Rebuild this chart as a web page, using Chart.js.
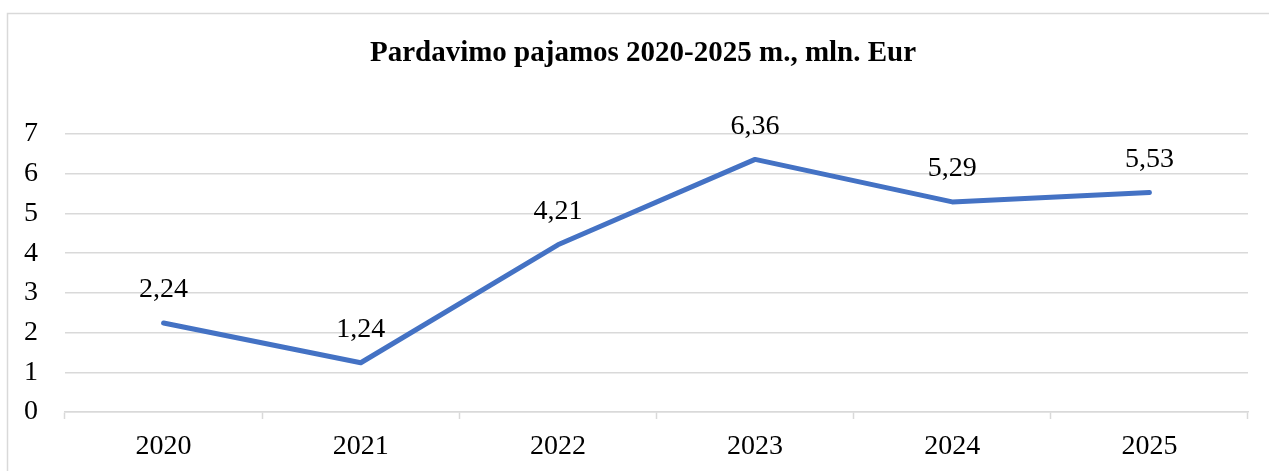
<!DOCTYPE html>
<html>
<head>
<meta charset="utf-8">
<script src="https://cdn.jsdelivr.net/npm/chart.js@4/dist/chart.umd.min.js"></script>
<style>
html,body{margin:0;padding:0;background:#fff;overflow:hidden;}
#wrap{position:absolute;left:0;top:0;width:1269px;height:471px;}
</style>
</head>
<body>
<div id="wrap"><canvas id="c" width="1269" height="471"></canvas></div>
<script>
const categories = ["2020","2021","2022","2023","2024","2025"];
const values = [2.24, 1.24, 4.21, 6.36, 5.29, 5.53];
const valueLabels = ["2,24","1,24","4,21","6,36","5,29","5,53"];
const yTicks = [0,1,2,3,4,5,6,7];
const titleText = "Pardavimo pajamos 2020-2025 m., mln. Eur";

const FONT = "'Liberation Serif', 'Times New Roman', serif";

const frame = {
  id: 'frame',
  beforeDraw(chart){
    const ctx = chart.ctx;
    ctx.save();
    ctx.fillStyle = '#fff';
    ctx.fillRect(0,0,chart.width,chart.height);
    ctx.strokeStyle = '#d9d9d9';
    ctx.lineWidth = 1.5;
    ctx.strokeRect(7.5, 13.5, 1400, 600);
    ctx.fillStyle = '#000';
    ctx.font = "bold 29px " + FONT;
    ctx.textAlign = 'center';
    ctx.textBaseline = 'alphabetic';
    ctx.fillText(titleText, 643, 61);
    ctx.restore();
  }
};

const dataLabels = {
  id: 'dataLabels',
  afterDatasetsDraw(chart){
    const ctx = chart.ctx;
    const meta = chart.getDatasetMeta(0);
    ctx.save();
    ctx.font = "28px " + FONT;
    ctx.fillStyle = '#000';
    ctx.textAlign = 'center';
    ctx.textBaseline = 'middle';
    meta.data.forEach((pt, i) => {
      ctx.fillText(valueLabels[i], pt.x, pt.y - 33);
    });
    ctx.restore();
  }
};

new Chart(document.getElementById('c'), {
  type: 'line',
  data: {
    labels: categories,
    datasets: [{
      data: values,
      borderColor: '#4472C4',
      borderWidth: 5,
      pointRadius: 0,
      tension: 0,
      borderCapStyle: 'round',
      borderJoinStyle: 'round',
      fill: false
    }]
  },
  options: {
    responsive: false,
    animation: false,
    devicePixelRatio: 1,
    layout: { padding: { left: 0, right: 21, top: 134, bottom: 0 } },
    plugins: {
      legend: { display: false },
      tooltip: { enabled: false },
      title: { display: false }
    },
    scales: {
      x: {
        offset: true,
        grid: {
          offset: true,
          drawOnChartArea: false,
          drawTicks: true,
          tickLength: 7,
          tickColor: '#d9d9d9',
          tickWidth: 1.5
        },
        border: { display: true, color: '#d9d9d9', width: 1.5 },
        ticks: {
          color: '#000',
          font: { family: FONT, size: 28 },
          padding: 11,
          maxRotation: 0
        },
        afterFit(scale){ scale.height = 59; }
      },
      y: {
        min: 0,
        max: 7,
        afterBuildTicks(scale){ scale.ticks = yTicks.map(v => ({value: v})); },
        grid: {
          color: '#d9d9d9',
          lineWidth: 1.5,
          drawTicks: false
        },
        border: { display: false },
        ticks: {
          color: '#000',
          font: { family: FONT, size: 28 },
          padding: 27,
          callback: v => String(v)
        },
        afterFit(scale){ scale.width = 65; }
      }
    }
  },
  plugins: [frame, dataLabels]
});
</script>
</body>
</html>
